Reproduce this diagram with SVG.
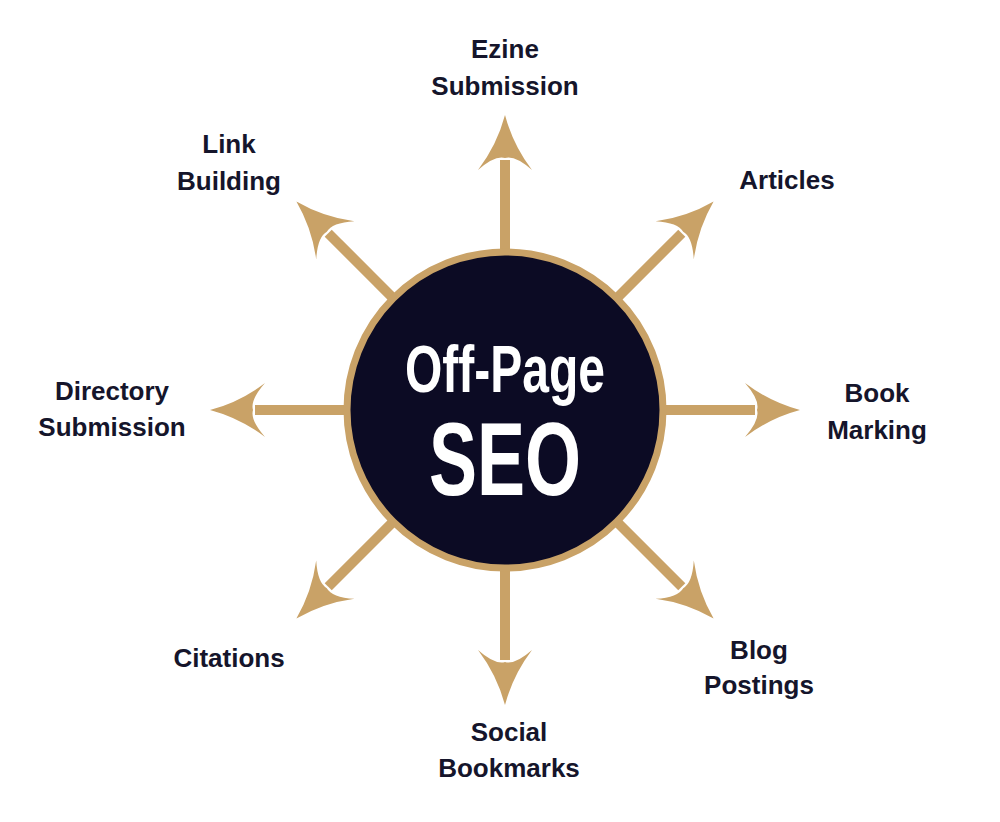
<svg xmlns="http://www.w3.org/2000/svg" width="1000" height="822" viewBox="0 0 1000 822">
<style>
.lbl{font-family:"Liberation Sans",Arial,sans-serif;font-weight:bold;font-size:26px;fill:#15152b;text-anchor:middle}
.arm line{stroke:#c9a267;stroke-width:10}
.arm path{fill:#c9a267}
</style>
<defs>
<g id="arm" class="arm"><line x1="150" y1="0" x2="250" y2="0"/><path d="M295,0 Q265,-8 240,-27 Q255,-10 252,0 Q255,10 240,27 Q265,8 295,0Z"/></g>
</defs>
<rect width="1000" height="822" fill="#fff"/>
<g id="connectors" transform="translate(505,410)">
<use href="#arm" transform="rotate(-90)"/>
<use href="#arm" transform="rotate(-45)"/>
<use href="#arm" transform="rotate(0)"/>
<use href="#arm" transform="rotate(45)"/>
<use href="#arm" transform="rotate(90)"/>
<use href="#arm" transform="rotate(135)"/>
<use href="#arm" transform="rotate(180)"/>
<use href="#arm" transform="rotate(225)"/>
</g>
<g id="center">
<circle cx="505" cy="410" r="158" fill="#0c0b24" stroke="#c9a267" stroke-width="7"/>
<text x="505" y="392" font-family="Liberation Sans,Arial,sans-serif" font-weight="bold" font-size="66" fill="#fff" text-anchor="middle" textLength="200" lengthAdjust="spacingAndGlyphs">Off-Page</text>
<text x="505" y="495" font-family="Liberation Sans,Arial,sans-serif" font-weight="bold" font-size="104" fill="#fff" text-anchor="middle" textLength="152" lengthAdjust="spacingAndGlyphs">SEO</text>
</g>
<g id="ezine"><text class="lbl" x="505" y="58">Ezine</text><text class="lbl" x="505" y="95">Submission</text></g>
<g id="link"><text class="lbl" x="229" y="153">Link</text><text class="lbl" x="229" y="190">Building</text></g>
<g id="articles"><text class="lbl" x="787" y="189">Articles</text></g>
<g id="directory"><text class="lbl" x="112" y="400">Directory</text><text class="lbl" x="112" y="436">Submission</text></g>
<g id="book"><text class="lbl" x="877" y="402">Book</text><text class="lbl" x="877" y="439">Marking</text></g>
<g id="citations"><text class="lbl" x="229" y="667">Citations</text></g>
<g id="blog"><text class="lbl" x="759" y="659">Blog</text><text class="lbl" x="759" y="694">Postings</text></g>
<g id="social"><text class="lbl" x="509" y="741">Social</text><text class="lbl" x="509" y="777">Bookmarks</text></g>
</svg>
